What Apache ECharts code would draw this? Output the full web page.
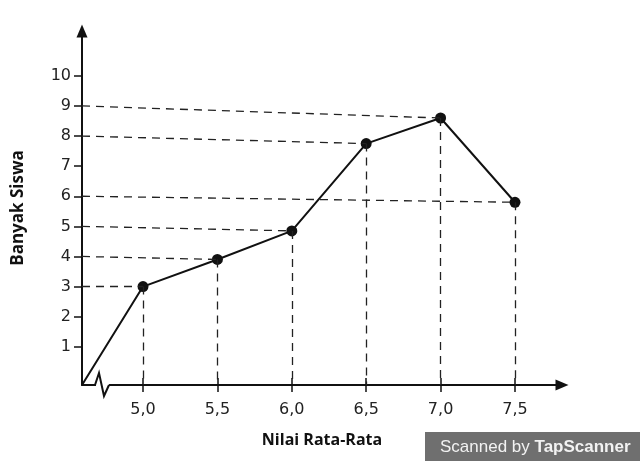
<!DOCTYPE html>
<html>
<head>
<meta charset="utf-8">
<script src="https://cdn.jsdelivr.net/npm/echarts@6/dist/echarts.min.js"></script>
<style>html,body{margin:0;padding:0;background:#fff}#c{width:640px;height:461px}</style>
</head>
<body>
<div id="c"></div>
<script>
// Data
var nilai = [5.0, 5.5, 6.0, 6.5, 7.0, 7.5];           // x values (Nilai Rata-Rata)
var banyak = [3.0, 3.9, 4.85, 7.75, 8.6, 5.8];        // drawn point heights
var levels = [3, 4, 5, 8, 9, 6];                      // labelled levels the dashed guides point to
var yTicks = [1, 2, 3, 4, 5, 6, 7, 8, 9, 10];
var xTicks = [5.0, 5.5, 6.0, 6.5, 7.0, 7.5];
var xMin = 4.59, xMax = 7.816, yMin = -0.27, yMax = 11.49;

var chart = echarts.init(document.getElementById('c'), null, {renderer: 'canvas'});

var lineData = [{value: [xMin, yMin], symbol: 'none'}];
for (var i = 0; i < nilai.length; i++) lineData.push([nilai[i], banyak[i]]);

var guides = [];
for (var j = 0; j < nilai.length; j++) {
  guides.push([{coord: [xMin, levels[j]]}, {coord: [nilai[j], banyak[j]]}]);
  guides.push([{coord: [nilai[j], banyak[j]]}, {coord: [nilai[j], yMin]}]);
}

var option = {
  animation: false,
  backgroundColor: '#fff',
  grid: {left: 82, right: 78, top: 31, bottom: 76},
  xAxis: [{
    type: 'value', min: xMin, max: xMax,
    position: 'bottom',
    name: 'Nilai Rata-Rata', nameLocation: 'middle', nameGap: 47,
    nameTextStyle: {fontFamily: 'Open Sans', fontWeight: 'bold', fontSize: 16, color: '#111'},
    axisLine: {onZero: false, lineStyle: {color: '#111', width: 2}, symbol: ['none', 'triangle'], symbolSize: [11, 13]},
    axisTick: {show: true, length: 7, lineStyle: {color: '#111', width: 1.5}, customValues: xTicks},
    axisLabel: {show: true, margin: 17, fontFamily: 'DejaVu Sans', fontSize: 16, color: '#222',
      customValues: xTicks, formatter: function (v) { return v.toFixed(1).replace('.', ','); }},
    splitLine: {show: false}
  }, {
    type: 'value', min: xMin, max: xMax, position: 'bottom',
    axisLine: {show: false, onZero: false},
    axisTick: {show: true, inside: true, length: 7, lineStyle: {color: '#111', width: 1.5}, customValues: xTicks},
    axisLabel: {show: false},
    splitLine: {show: false}
  }],
  yAxis: {
    type: 'value', min: yMin, max: yMax,
    name: 'Banyak Siswa', nameLocation: 'middle', nameGap: 55, nameRotate: 90,
    nameTextStyle: {fontFamily: 'Open Sans', fontWeight: 'bold', fontSize: 17, color: '#111'},
    axisLine: {onZero: false, lineStyle: {color: '#111', width: 2}, symbol: ['none', 'triangle'], symbolSize: [11, 13]},
    axisTick: {show: true, length: 8, lineStyle: {color: '#111', width: 1.5}, customValues: yTicks},
    axisLabel: {show: true, margin: 11, fontFamily: 'DejaVu Sans', fontSize: 16, color: '#222', customValues: yTicks},
    splitLine: {show: false}
  },
  series: [{
    type: 'line',
    data: [],
    markLine: {
      silent: true, symbol: ['none', 'none'], label: {show: false},
      lineStyle: {color: '#222', width: 1.3, type: [8, 6]},
      data: guides
    },
    z: 1
  }, {
    type: 'line',
    data: lineData,
    symbol: 'circle', symbolSize: 11,
    lineStyle: {color: '#111', width: 2},
    itemStyle: {color: '#111'},
    z: 3
  }]
};
chart.setOption(option);

// axis-break zigzag near the origin and the scanner watermark
var p0 = chart.convertToPixel({gridIndex: 0}, [xMin, yMin]);
var ox = p0[0], oy = p0[1];
chart.setOption({
  graphic: [
    {type: 'rect', shape: {x: ox + 14, y: oy - 2, width: 13, height: 4}, style: {fill: '#fff'}, z: 50},
    {type: 'polyline', shape: {points: [[ox + 13, oy], [ox + 17, oy - 12], [ox + 22, oy + 11], [ox + 27, oy]]},
      style: {stroke: '#111', lineWidth: 2, fill: null}, z: 51},
    {type: 'rect', shape: {x: 425, y: 432, width: 215, height: 29}, style: {fill: '#6f6f6f'}, z: 60},
    {type: 'text', x: 440, y: 447, z: 61,
      style: {text: '{a|Scanned by }{b|TapScanner}', verticalAlign: 'middle',
        rich: {a: {fontFamily: 'Liberation Sans', fontSize: 17, fill: '#f2f2f2'},
               b: {fontFamily: 'Liberation Sans', fontSize: 17, fontWeight: 'bold', fill: '#f2f2f2'}}}}
  ]
});
</script>
</body>
</html>
